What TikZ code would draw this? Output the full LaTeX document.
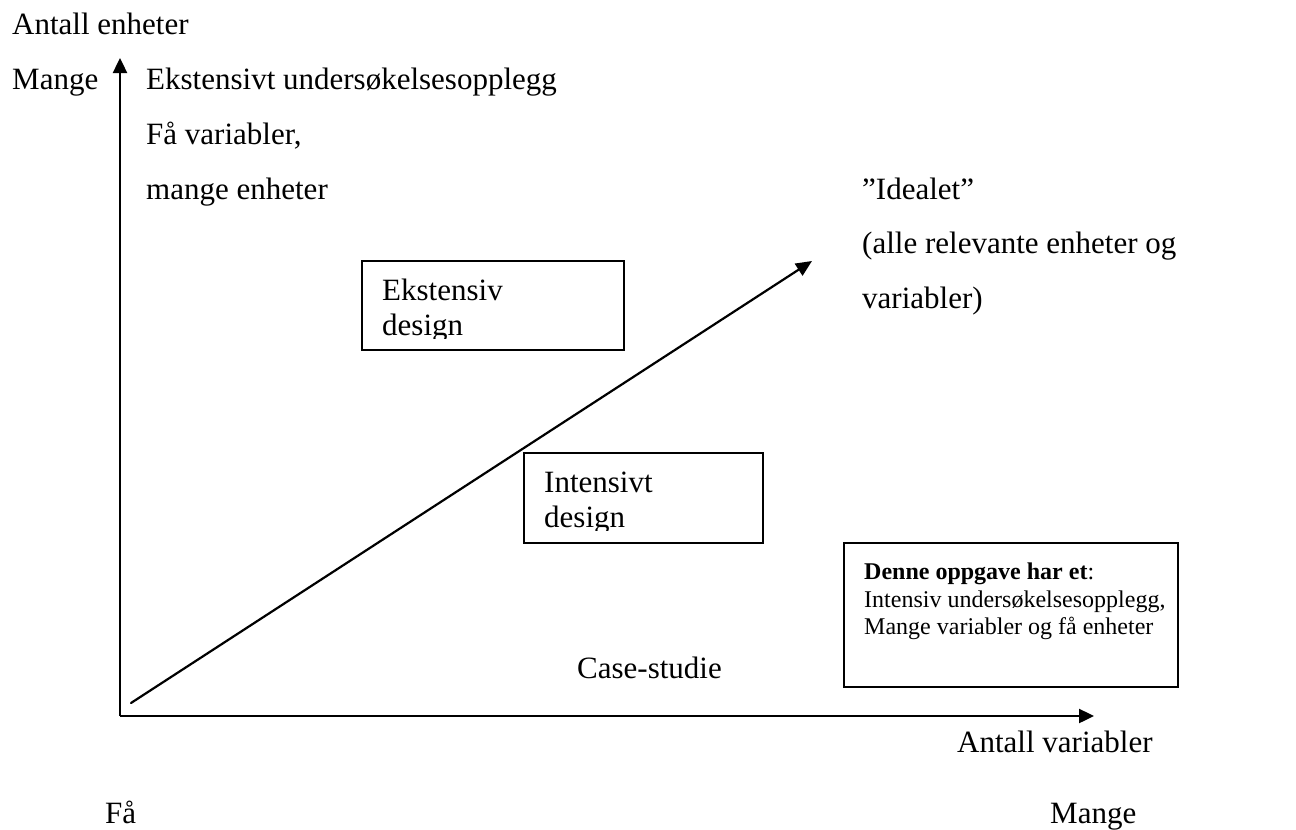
\documentclass[tikz,border=0pt]{standalone}
\usepackage{fontspec}
\setmainfont{Liberation Serif}
\usetikzlibrary{arrows.meta}
\begin{document}
\begin{tikzpicture}[x=1pt,y=-1pt,
  txt/.style={anchor=base west,inner sep=0pt,font=\fontsize{31}{36}\selectfont},
  smalltxt/.style={anchor=base west,inner sep=0pt,font=\fontsize{24}{28}\selectfont},
  framebox/.style={draw,line width=1.8pt,anchor=north west,inner sep=0pt},
  axis/.style={line width=2.4pt,-{Triangle[length=15pt,width=14pt]}},
  trend/.style={line width=2.2pt,line cap=round,-{Triangle[length=16pt,width=14pt]}}]
\useasboundingbox (0,0) rectangle (1296,830);

% axes and the diagonal trend arrow
\coordinate (O) at (120,716);
\coordinate (ytip) at (120,58);
\coordinate (xtip) at (1094,716);
\coordinate (dstart) at (131,703);
\coordinate (dtip) at (812,261);
\draw[axis] (O) -- (ytip);
\draw[axis] (O) -- (xtip);
\draw[trend] (dstart) -- (dtip);

% axis labels
\node[txt] (yname) at (12,34) {Antall enheter};
\node[txt] (ymany) at (12,89) {Mange};
\node[txt] (xname) at (957,752) {Antall variabler};
\node[txt] (xfew) at (105,823) {Få};
\node[txt] (xmany) at (1050,823) {Mange};

% upper-left description
\node[txt] (ext1) at (146,89) {Ekstensivt undersøkelsesopplegg};
\node[txt] (ext2) at (146,144) {Få variabler,};
\node[txt] (ext3) at (146,199) {mange enheter};

% the ideal corner
\node[txt] (ideal1) at (862,199) {”Idealet”};
\node[txt] (ideal2) at (862,253) {(alle relevante enheter og};
\node[txt] (ideal3) at (862,308) {variabler)};

% case study label
\node[txt] (case) at (577,678) {Case-studie};

% design boxes (text cut off at the inner bottom margin)
\node[framebox,minimum width=262pt,minimum height=89pt] (ekbox) at (361,260) {};
\begin{scope}
  \clip (361,260) rectangle (623,338);
  \node[txt] (ek1) at (382,300) {Ekstensiv};
  \node[txt] (ek2) at (382,335) {design};
\end{scope}

\node[framebox,minimum width=239pt,minimum height=90pt] (inbox) at (523,452) {};
\begin{scope}
  \clip (523,452) rectangle (762,530);
  \node[txt] (in1) at (544,492) {Intensivt};
  \node[txt] (in2) at (544,527) {design};
\end{scope}

% note box
\node[framebox,minimum width=334pt,minimum height=144pt] (note) at (843,542) {};
\node[smalltxt] (note1) at (864,579) {\textbf{Denne oppgave har et}:};
\node[smalltxt] (note2) at (864,607) {Intensiv undersøkelsesopplegg,};
\node[smalltxt] (note3) at (864,634) {Mange variabler og få enheter};
\end{tikzpicture}
\end{document}
